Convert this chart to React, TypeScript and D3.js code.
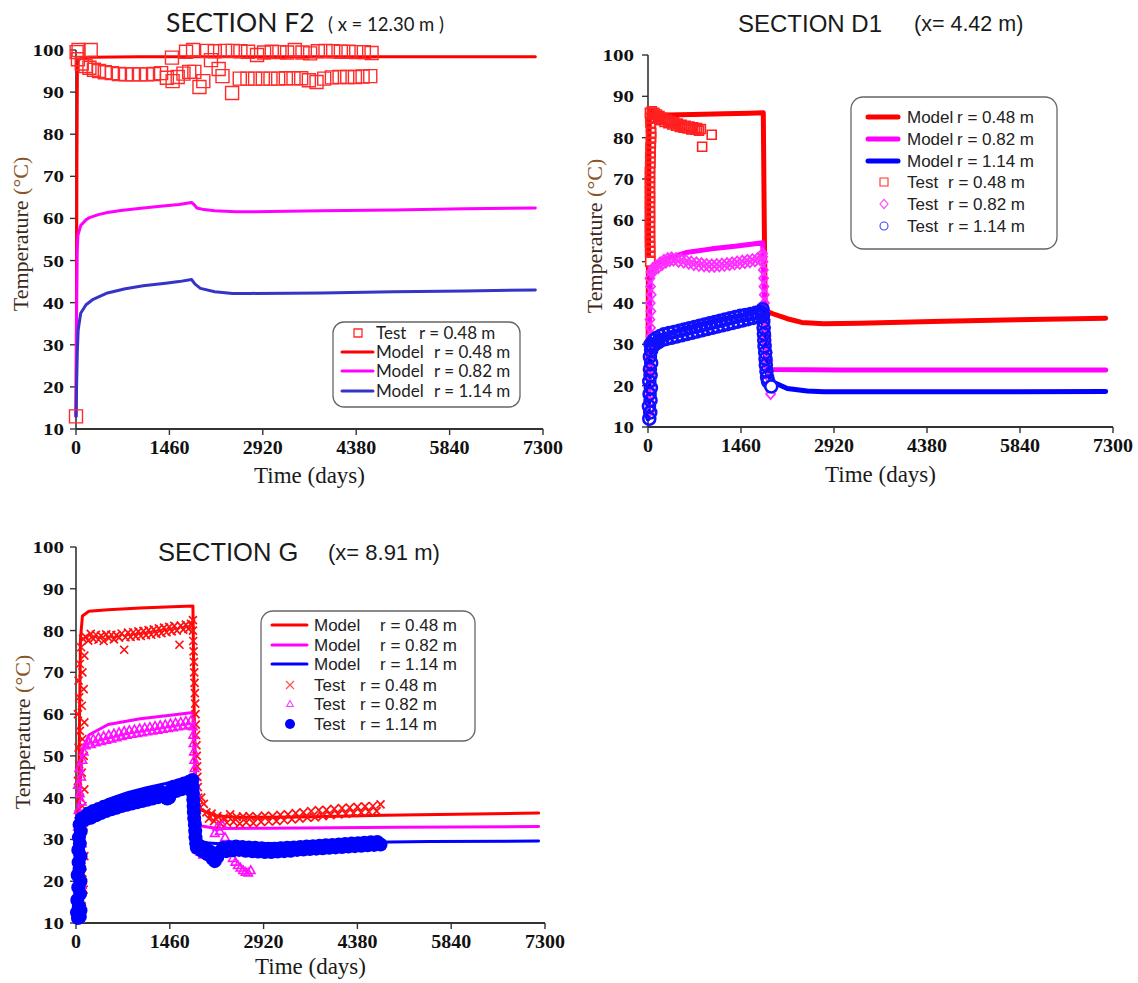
import React from 'react';
import * as d3 from 'd3';

type Pt = [number, number];

const X_TICKS = [0, 1460, 2920, 4380, 5840, 7300];
const Y_TICKS = [10, 20, 30, 40, 50, 60, 70, 80, 90, 100];

// ---------------- SECTION F2 ----------------
const F2_MODEL_048: Pt[] = [[0,13],[8,40],[15,75],[22,96],[35,97.6],[80,98.1],[200,98.3],[1000,98.4],[4000,98.4],[7180,98.4]];
const F2_MODEL_082: Pt[] = [[0,13],[8,35],[18,52],[30,56],[73,58.3],[150,59.6],[212,60.2],[350,60.9],[492,61.4],[700,61.9],[1051,62.5],[1400,63],[1610,63.3],[1806,63.8],[1850,63.2],[1889,62.5],[2000,62.1],[2169,61.8],[2500,61.6],[2728,61.6],[3300,61.7],[3846,61.8],[4964,62],[6082,62.3],[7180,62.5]];
const F2_MODEL_114: Pt[] = [[0,13],[10,21],[20,28],[34,33.5],[73,37.5],[157,39.5],[268,40.8],[492,42.3],[771,43.3],[1051,44],[1400,44.6],[1610,45],[1806,45.5],[1861,44.4],[1945,43.4],[2169,42.6],[2448,42.2],[2728,42.2],[3846,42.3],[4964,42.6],[6082,42.8],[7180,43]];
const F2_TEST_048: Pt[] = [[0,13],[10,99.5],[40,100],[30,97.8],[90,96.8],[150,96.2],[230,100],[210,95.8],[280,95.3],[360,95],[450,94.7],[560,94.5],[670,94.3],[780,94.2],[890,94.2],[1000,94.2],[1110,94.2],[1220,94.3],[1330,94.5],[1420,93.4],[1500,98.2],[1510,92.6],[1590,93.6],[1680,94.4],[1720,99.6],[1770,94.8],[1830,100],[1850,94.8],[1930,91.2],[1990,92.6],[2050,99.8],[2110,97.6],[2170,99.7],[2230,95.5],[2290,93.8],[2330,99.8],[2440,89.8],[2450,99.8],[2560,93.2],[2570,99.7],[2680,93.2],[2690,99.6],[2800,93.2],[2830,98.8],[2920,93.2],[2940,99.4],[3040,93.2],[3060,99.6],[3160,93.2],[3180,99.5],[3280,93.3],[3300,99.4],[3400,93.3],[3420,100],[3520,93.3],[3540,99.4],[3640,92.8],[3660,99.2],[3760,92.4],[3780,99.7],[3880,93.2],[3900,99.8],[4000,93.5],[4020,99.7],[4120,93.6],[4140,99.6],[4240,93.6],[4260,99.6],[4360,93.6],[4380,99.5],[4480,93.7],[4500,99.5],[4600,93.8],[4620,99.3]];

// ---------------- SECTION D1 ----------------
const D1_MODEL_048: Pt[] = [[0,22],[8,55],[15,80],[25,86.3],[60,86.6],[120,85.6],[300,85.5],[700,85.6],[1200,85.8],[1600,85.9],[1810,86],[1825,60],[1840,38.2],[1960,37.4],[2187,36.2],[2414,35.3],[2755,35],[3323,35.1],[4459,35.5],[5595,35.9],[7185,36.3]];
const D1_MODEL_082: Pt[] = [[0,12],[15,30],[35,45],[70,47.8],[150,49.5],[300,50.8],[600,52.2],[1000,53.1],[1400,53.8],[1800,54.6],[1830,40],[1860,24.5],[1950,23.9],[3000,23.8],[7185,23.8]];
const D1_MODEL_114: Pt[] = [[0,12],[20,22],[50,28],[100,30.5],[200,32],[500,33.5],[1000,35.5],[1500,37.2],[1800,38.6],[1830,30],[1870,23],[1960,20.9],[2187,19.3],[2500,18.7],[2755,18.5],[5000,18.5],[7185,18.6]];
const D1_TEST_048: Pt[] = [[60,86.4],[80,85.5],[100,86],[120,85],[140,85.6],[160,84.6],[180,85.2],[200,84.2],[230,84.8],[260,83.8],[290,84.4],[320,83.5],[350,84],[380,83.2],[410,83.7],[440,82.9],[470,83.4],[500,82.6],[530,83.1],[560,82.4],[590,82.9],[620,82.2],[650,82.7],[680,82],[710,82.5],[740,81.9],[770,82.3],[800,81.7],[830,82.1],[850,77.8],[1000,80.7],
  [30,86],[35,84.8],[40,83.6],[45,82.4],[50,81.2],[48,80],[45,78.8],[40,77.6],[42,76.4],[35,75.2],[38,74],[34,72.8],[30,71.6],[33,70.4],[30,69.2],[32,68],[30,66.8],[33,65.6],[30,64.4],[32,63.2],[30,62],[33,60.8],[30,59.6],[32,58.4],[30,57.2],[33,56],[30,54.8],[35,53.6],[33,52.4],[36,51.2],[35,50]];
const D1_TEST_082: Pt[] = [[40,14],[30,16],[45,18],[35,20],[50,22],[40,24],[30,26],[45,28],[35,30],[50,32],[40,34],[30,36],[45,38],[35,40],[50,42],[40,44],[30,46],[45,47.5],
  [60,47.5],[80,48.5],[100,47.8],[130,49],[160,48.5],[190,49.8],[220,49.2],[250,50.4],[280,49.8],[310,50.8],[340,50.2],[370,51],[400,50.3],[440,50.8],[480,50],[520,50.6],[560,49.8],[600,50.3],[640,49.5],[680,50],[720,49.2],[760,49.8],[800,49],[840,49.6],[880,48.9],[920,49.4],[960,48.8],[1000,49.3],[1040,48.8],[1080,49.4],[1120,48.9],[1160,49.5],[1200,49],[1240,49.6],[1280,49.2],[1320,49.8],[1360,49.4],[1400,50],[1440,49.5],[1480,50.2],[1520,49.7],[1560,50.4],[1600,49.9],[1640,50.6],[1680,50.1],[1720,50.8],[1760,50.4],[1800,51.2],
  [1800,52],[1805,50],[1810,48],[1815,46],[1820,44],[1825,42],[1830,40],[1835,38],[1840,36],[1850,34],[1855,32],[1860,30],[1870,28],[1880,26],[1890,24],[1900,22],[1910,20],[1925,18]];
const D1_TEST_114: Pt[] = [[20,12],[35,13.5],[15,15],[40,16.5],[25,18],[45,19.5],[20,21],[40,22.5],[30,24],[50,25.5],[30,27],[50,28.5],[40,30],
  [70,29.5],[90,31],[110,30],[130,31.5],[160,30.5],[190,32],[220,31],[250,32.4],[290,31.3],[330,32.7],[370,31.6],[410,33],[450,31.9],[490,33.3],[530,32.2],[570,33.6],[610,32.5],[650,33.9],[690,32.8],[730,34.2],[770,33.1],[810,34.5],[850,33.4],[890,34.8],[930,33.7],[970,35.1],[1010,34],[1050,35.4],[1090,34.3],[1130,35.7],[1170,34.6],[1210,36],[1250,34.9],[1290,36.3],[1330,35.2],[1370,36.6],[1410,35.5],[1450,36.9],[1490,35.8],[1530,37.1],[1570,36.1],[1610,37.3],[1650,36.4],[1690,37.6],[1730,36.7],[1770,37.9],[1800,37.2],
  [1800,38.5],[1805,37],[1810,35.5],[1815,34],[1820,32.5],[1825,31],[1830,29.5],[1840,28],[1845,26.5],[1850,25],[1860,23.5],[1870,22],[1885,21],[1935,19.8]];

// ---------------- SECTION G ----------------
const G_MODEL_048: Pt[] = [[0,11],[40,40],[70,78],[100,83.5],[200,84.6],[500,85],[1000,85.4],[1500,85.7],[1820,85.9],[1840,60],[1870,40],[1950,37],[2200,35.6],[2500,35.3],[3500,35.4],[4800,35.8],[7200,36.3]];
const G_MODEL_082: Pt[] = [[0,11],[40,30],[70,45],[100,51],[200,55],[500,57.5],[1000,58.9],[1500,59.8],[1820,60.4],[1850,45],[1880,35],[1950,33.2],[2200,32.6],[3000,32.7],[5000,32.9],[7200,33.1]];
const G_MODEL_114: Pt[] = [[0,11],[50,12],[80,22],[110,32],[150,35.5],[250,37.5],[500,39.6],[800,41.2],[1100,42.4],[1400,43.4],[1700,44.6],[1820,45.3],[1850,40],[1880,33],[1920,30],[2000,29.2],[2300,28.9],[3000,29],[4000,29.2],[5500,29.5],[7200,29.6]];
const G_TEST_048: Pt[] = [[30,12],[90,14],[50,16],[120,18],[40,20],[100,22],[60,24],[130,26],[30,28],[90,30],[50,32],[120,34],[40,36],[100,38],[60,40],[130,42],[30,44],[90,46],[50,48],[120,50],[40,52],[100,54],[60,56],[130,58],[30,60],[90,62],[50,64],[120,66],[40,68],[100,70],[60,72],[130,74],[80,76],[110,78],
  [150,78.5],[190,77.6],[230,79.2],[270,78],[310,79],[350,77.8],[390,78.8],[430,77.5],[470,79.1],[510,78.2],[550,79],[590,77.9],[630,78.9],[670,78.3],[710,79.3],[750,75.4],[770,78.4],[810,79.5],[850,78.5],[890,79.6],[930,78.6],[970,79.8],[1010,78.7],[1050,79.9],[1090,78.9],[1130,80.1],[1170,79],[1210,80.3],[1250,79.2],[1290,80.5],[1330,79.4],[1370,80.7],[1410,79.6],[1450,80.9],[1490,79.8],[1530,81.1],[1570,80],[1610,76.6],[1630,81.2],[1670,80.2],[1710,81.4],[1750,80.4],[1790,81.6],[1820,82.5],
  [1820,80],[1825,77.5],[1830,75],[1835,72.5],[1840,70],[1845,67.5],[1850,65],[1855,62.5],[1860,60],[1865,57.5],[1870,55],[1875,52.5],[1880,50],[1885,47.5],[1890,45],[1895,42.5],[1900,40],[1910,38],
  [1950,40],[1990,38.5],[2030,36.5],[2070,35],[2110,36.2],[2150,34.4],[2200,35.6],[2250,33.8],[2300,35.2],[2350,34],[2400,36],[2450,34.2],[2500,35.4],[2550,33.8],[2600,35.5],[2650,34.1],[2700,35.6],[2760,33.9],[2820,35.4],[2880,34.2],[2940,35.7],[3000,34.3],[3060,35.6],[3120,34.4],[3180,35.9],[3240,34.6],[3300,36],[3360,34.8],[3420,36.3],[3480,35],[3540,36.5],[3600,35.2],[3660,36.8],[3720,35.3],[3780,37],[3840,35.6],[3900,37.1],[3960,35.8],[4020,37.3],[4080,36],[4140,37.5],[4200,36.1],[4260,37.6],[4320,36.3],[4380,37.8],[4440,36.4],[4500,37.9],[4560,36.6],[4620,38],[4680,36.8],[4740,38.4]];
const G_TEST_082: Pt[] = [[60,11],[30,13],[80,15],[40,17],[90,19],[50,21],[20,23],[70,25],[40,27],[90,29],[50,31],[30,33],[80,35],[40,37],[90,39],[60,41],[30,43],[80,45],[50,47],[100,49],[120,51],
  [150,52.5],[190,53.6],[230,52.8],[270,54],[310,53.2],[350,54.4],[390,53.5],[430,54.7],[470,53.8],[510,55],[550,54.1],[590,55.3],[630,54.4],[670,55.6],[710,54.7],[750,55.9],[790,55],[830,56.1],[870,55.2],[910,56.3],[950,55.4],[990,56.5],[1030,55.6],[1070,56.7],[1110,55.8],[1150,56.9],[1190,56],[1230,57.1],[1270,56.2],[1310,57.3],[1350,56.4],[1390,57.5],[1430,56.6],[1470,57.7],[1510,56.8],[1550,57.9],[1590,57],[1630,58.1],[1670,57.2],[1710,58.3],[1750,57.4],[1790,58.5],
  [1820,57],[1825,55],[1830,53],[1835,51],[1840,49],[1845,47],[1850,45],[1855,43],[1860,41],[1865,39],[1870,37],[1875,35],[1880,33],[1885,31],[1890,29],[1900,27.5],
  [1940,27],[1980,26.3],[2020,27.2],[2060,26],[2100,27],[2160,31.5],[2200,33],[2240,32],[2280,33.4],[2320,30.5],[2440,25.5],[2480,24.6],[2520,23.8],[2560,23.2],[2600,22.6],[2640,22.2],[2680,22],[2720,22.6]];
const G_TEST_114: Pt[] = [[30,11.2],[60,11.5],[15,12.5],[70,13],[45,14],[20,15.5],[65,17],[35,18.5],[70,20],[25,21.5],[55,23],[40,24.5],[70,26],[35,27.5],[60,29],[45,30.5],[75,32],[55,33.5],[90,35],
  [150,34.8],[190,36.2],[230,35.2],[270,36.8],[310,35.8],[350,37.3],[390,36.3],[430,37.8],[470,36.8],[510,38.2],[550,37.2],[590,38.6],[630,37.6],[670,39],[710,38],[750,39.4],[790,38.3],[830,39.7],[870,38.6],[910,40],[950,38.9],[990,40.3],[1030,39.2],[1070,40.6],[1110,39.5],[1150,40.9],[1190,39.8],[1230,41.2],[1270,40.1],[1310,41.5],[1350,40.4],[1390,40.1],[1420,39.8],[1450,40],[1480,41.8],[1520,42.6],[1560,41.6],[1600,43],[1640,42],[1680,43.4],[1720,42.4],[1760,43.8],[1800,43],
  [1810,44.2],[1815,42.5],[1820,41],[1825,39.5],[1830,38],[1835,36.5],[1840,35],[1850,33.5],[1855,32],[1860,30.5],[1870,29],[1880,28],
  [1920,28.5],[1960,27.2],[2000,28],[2040,26.5],[2080,27.2],[2120,25.5],[2160,24.8],[2200,25.8],[2240,27],[2290,28],[2340,27.2],[2390,28.2],[2440,27.4],[2490,28.3],[2540,27.5],[2590,28.2],[2640,27.3],[2690,28.1],[2740,27.2],[2790,28],[2840,27.1],[2890,27.9],[2940,27],[2990,27.8],[3040,27],[3090,27.8],[3140,27.1],[3190,27.9],[3240,27.2],[3290,28],[3340,27.3],[3390,28.1],[3440,27.5],[3490,28.2],[3540,27.6],[3590,28.3],[3640,27.7],[3690,28.4],[3740,27.8],[3790,28.5],[3840,27.9],[3890,28.6],[3940,28],[3990,28.7],[4040,28.1],[4090,28.8],[4140,28.2],[4190,28.9],[4240,28.3],[4290,29],[4340,28.4],[4390,29.1],[4440,28.5],[4490,29.2],[4540,28.6],[4590,29.3],[4640,28.7],[4690,29.4],[4740,28.8]];

// ---------------- helpers ----------------
type Shape = 'square' | 'diamond' | 'circle' | 'times' | 'triangle' | 'dot';

function markerPath(shape: Shape, s: number): string {
  const h = s / 2;
  switch (shape) {
    case 'square': return `M${-h},${-h}h${s}v${s}h${-s}Z`;
    case 'diamond': return `M0,${-h * 1.15}L${h},0L0,${h * 1.15}L${-h},0Z`;
    case 'times': return `M${-h},${-h}L${h},${h}M${-h},${h}L${h},${-h}`;
    case 'triangle': return `M0,${-h}L${h * 0.95},${h * 0.7}L${-h * 0.95},${h * 0.7}Z`;
    default: return `M${h},0A${h},${h} 0 1,1 ${-h},0A${h},${h} 0 1,1 ${h},0Z`;
  }
}

interface Model { data: Pt[]; color: string; width: number }
interface Test { data: Pt[]; shape: Shape; color: string; size: number; fill: string; sw: number; lastFill?: string }
interface LegendItem { kind: 'line' | 'marker'; color: string; width?: number; shape?: Shape; size?: number; fill?: string; sw?: number; word: string; rtext: string; rx: number }
interface Cfg {
  x0: number; x1: number; yb: number; yt: number; labelGap: number;
  title: string; titleX: number; titleY: number; titleFont: string; titleSize: number;
  sub: string; subX: number; subSize: number;
  ylabX: number; ylabY: number; xlabY: number;
  models: Model[]; tests: Test[];
  legend: { x: number; y: number; w: number; h: number; r: number; lx0: number; lx1: number; mx: number; tx: number; rows: number[]; font: string; size: number; items: LegendItem[] };
}

const SERIF = '"Liberation Serif", "Times New Roman", serif';
const SANS = '"Liberation Sans", Arial, sans-serif';
const CAL = 'Lato, "Open Sans", sans-serif';

function Panel({ c }: { c: Cfg }) {
  const x = d3.scaleLinear().domain([0, 7300]).range([c.x0, c.x1]);
  const y = d3.scaleLinear().domain([10, 100]).range([c.yb, c.yt]);
  const line = d3.line<Pt>().x(d => x(d[0])).y(d => y(d[1]));
  const L = c.legend;
  return (
    <g>
      <line x1={x(0)} x2={x(0)} y1={y(10)} y2={y(100)} stroke="#333" strokeWidth={1.6} />
      <line x1={x(0)} x2={x(7300)} y1={y(10)} y2={y(10)} stroke="#333" strokeWidth={1.8} />
      {Y_TICKS.map(t => (
        <g key={'y' + t}>
          <line x1={x(0) - 6} x2={x(0)} y1={y(t)} y2={y(t)} stroke="#333" strokeWidth={1.4} />
          <text x={x(0) - c.labelGap} y={y(t)} dy="0.35em" textAnchor="end" fontFamily={SERIF} fontWeight="bold" fontSize={17} fill="#111"
            textLength={String(t).length * 10.5} lengthAdjust="spacingAndGlyphs">{t}</text>
        </g>
      ))}
      {X_TICKS.map(t => (
        <g key={'x' + t}>
          <line x1={x(t)} x2={x(t)} y1={y(10)} y2={y(10) + 6} stroke="#333" strokeWidth={1.4} />
          <text x={x(t)} y={y(10) + 25} textAnchor="middle" fontFamily={SERIF} fontWeight="bold" fontSize={18} fill="#111"
            textLength={String(t).length * 10} lengthAdjust="spacingAndGlyphs">{t}</text>
        </g>
      ))}
      {c.models.map((m, i) => (
        <path key={'m' + i} d={line(m.data) || ''} fill="none" stroke={m.color} strokeWidth={m.width} strokeLinejoin="round" strokeLinecap="round" />
      ))}
      {c.tests.map((t, i) => (
        <g key={'t' + i}>
          {t.data.map((p, j) => (
            <path key={j} transform={`translate(${x(p[0])},${y(p[1])})`} d={markerPath(t.shape, t.size)}
              fill={t.lastFill && j === t.data.length - 1 ? t.lastFill : t.fill}
              stroke={t.shape === 'dot' ? 'none' : t.color} strokeWidth={t.sw} />
          ))}
        </g>
      ))}
      <text x={c.titleX} y={c.titleY} fontFamily={c.titleFont} fontSize={c.titleSize} fill="#1a1a1a">{c.title}</text>
      <text x={c.subX} y={c.titleY - 1} fontFamily={c.titleFont} fontSize={c.subSize} fill="#1a1a1a" style={{ whiteSpace: 'pre' }}>{c.sub}</text>
      <text transform={`translate(${c.ylabX},${c.ylabY}) rotate(-90)`} textAnchor="middle" fontFamily={SERIF} fontSize={22} fill="#3a2816">Temperature <tspan fill="#8a5526">(°C)</tspan></text>
      <text x={(c.x0 + c.x1) / 2} y={c.xlabY} textAnchor="middle" fontFamily={SERIF} fontSize={23} fill="#1a1a1a">Time (days)</text>
      <rect x={L.x} y={L.y} width={L.w} height={L.h} rx={L.r} ry={L.r} fill="#fff" stroke="#666" strokeWidth={1.3} />
      {L.items.map((it, i) => {
        const by = L.rows[i];
        const my = by - 6;
        return (
          <g key={'l' + i}>
            {it.kind === 'line'
              ? <line x1={L.lx0} x2={L.lx1} y1={my} y2={my} stroke={it.color} strokeWidth={it.width} strokeLinecap="round" />
              : <path transform={`translate(${L.mx},${my})`} d={markerPath(it.shape as Shape, it.size as number)} fill={it.fill} stroke={it.shape === 'dot' ? 'none' : it.color} strokeWidth={it.sw} />}
            <text x={L.tx} y={by} fontFamily={L.font} fontSize={L.size} fill="#222">{it.word}</text>
            <text x={it.rx} y={by} fontFamily={L.font} fontSize={L.size} fill="#222">{it.rtext}</text>
          </g>
        );
      })}
    </g>
  );
}

const F2: Cfg = {
  x0: 76, x1: 543, yb: 429, yt: 50, labelGap: 12,
  title: 'SECTION F2', titleX: 166, titleY: 32, titleFont: CAL, titleSize: 26.5,
  sub: '( x = 12.30 m )', subX: 328, subSize: 18.5,
  ylabX: 28, ylabY: 234, xlabY: 483,
  models: [
    { data: F2_MODEL_048, color: '#ff0000', width: 3 },
    { data: F2_MODEL_082, color: '#ff00ff', width: 3 },
    { data: F2_MODEL_114, color: '#3434c8', width: 3 },
  ],
  tests: [{ data: F2_TEST_048, shape: 'square', color: '#ff2a2a', size: 13, fill: 'none', sw: 1.4 }],
  legend: {
    x: 333, y: 322, w: 187, h: 85, r: 11, lx0: 342, lx1: 373, mx: 358, tx: 376, rows: [339, 358, 377, 397], font: CAL, size: 17,
    items: [
      { kind: 'marker', color: '#ff2a2a', shape: 'square', size: 8, fill: 'none', sw: 1.3, word: 'Test', rtext: 'r = 0.48 m', rx: 419 },
      { kind: 'line', color: '#ff0000', width: 3, word: 'Model', rtext: 'r = 0.48 m', rx: 434 },
      { kind: 'line', color: '#ff00ff', width: 3, word: 'Model', rtext: 'r = 0.82 m', rx: 434 },
      { kind: 'line', color: '#3434c8', width: 3, word: 'Model', rtext: 'r = 1.14 m', rx: 434 },
    ],
  },
};

const D1: Cfg = {
  x0: 648, x1: 1113, yb: 427, yt: 55, labelGap: 14,
  title: 'SECTION D1', titleX: 738, titleY: 32, titleFont: SANS, titleSize: 24,
  sub: '(x= 4.42 m)', subX: 914, subSize: 21.5,
  ylabX: 602, ylabY: 236, xlabY: 482,
  models: [
    { data: D1_MODEL_048, color: '#ff0000', width: 5 },
    { data: D1_MODEL_082, color: '#ff00ff', width: 5 },
    { data: D1_MODEL_114, color: '#0000ff', width: 5 },
  ],
  tests: [
    { data: D1_TEST_048, shape: 'square', color: '#ff2020', size: 9, fill: 'none', sw: 1.6, lastFill: '#fff' },
    { data: D1_TEST_082, shape: 'diamond', color: '#ff30ff', size: 9, fill: 'none', sw: 1.8 },
    { data: D1_TEST_114, shape: 'circle', color: '#1010ff', size: 12, fill: 'none', sw: 2.6, lastFill: '#fff' },
  ],
  legend: {
    x: 851, y: 97, w: 206, h: 152, r: 12, lx0: 868, lx1: 898, mx: 884, tx: 907, rows: [123, 145, 167, 188, 210, 232], font: SANS, size: 17,
    items: [
      { kind: 'line', color: '#ff0000', width: 5, word: 'Model', rtext: 'r = 0.48 m', rx: 957 },
      { kind: 'line', color: '#ff00ff', width: 5, word: 'Model', rtext: 'r = 0.82 m', rx: 957 },
      { kind: 'line', color: '#0000ff', width: 5, word: 'Model', rtext: 'r = 1.14 m', rx: 957 },
      { kind: 'marker', color: '#ff3030', shape: 'square', size: 8, fill: '#fff', sw: 1.1, word: 'Test', rtext: 'r = 0.48 m', rx: 948 },
      { kind: 'marker', color: '#ff40ff', shape: 'diamond', size: 8, fill: '#fff', sw: 1.1, word: 'Test', rtext: 'r = 0.82 m', rx: 948 },
      { kind: 'marker', color: '#4040ff', shape: 'circle', size: 8, fill: '#fff', sw: 1.1, word: 'Test', rtext: 'r = 1.14 m', rx: 948 },
    ],
  },
};

const G: Cfg = {
  x0: 76, x1: 545, yb: 923, yt: 547, labelGap: 12,
  title: 'SECTION G', titleX: 158, titleY: 561, titleFont: SANS, titleSize: 25.5,
  sub: '(x= 8.91 m)', subX: 328, subSize: 22,
  ylabX: 30, ylabY: 732, xlabY: 974,
  models: [
    { data: G_MODEL_048, color: '#ff0000', width: 3 },
    { data: G_MODEL_082, color: '#ff00ff', width: 3 },
    { data: G_MODEL_114, color: '#0000ff', width: 3 },
  ],
  tests: [
    { data: G_TEST_048, shape: 'times', color: '#ff1010', size: 8, fill: 'none', sw: 1.7 },
    { data: G_TEST_082, shape: 'triangle', color: '#ff10ff', size: 9, fill: 'none', sw: 1.6 },
    { data: G_TEST_114, shape: 'dot', color: '#0000ff', size: 14, fill: '#0000ff', sw: 0 },
  ],
  legend: {
    x: 261, y: 611, w: 214, h: 130, r: 12, lx0: 272, lx1: 307, mx: 290, tx: 314, rows: [631, 651, 670, 691, 710, 730], font: SANS, size: 17,
    items: [
      { kind: 'line', color: '#ff0000', width: 3, word: 'Model', rtext: 'r = 0.48 m', rx: 380 },
      { kind: 'line', color: '#ff00ff', width: 3, word: 'Model', rtext: 'r = 0.82 m', rx: 380 },
      { kind: 'line', color: '#0000ff', width: 3, word: 'Model', rtext: 'r = 1.14 m', rx: 380 },
      { kind: 'marker', color: '#ff5050', shape: 'times', size: 8, fill: 'none', sw: 1.2, word: 'Test', rtext: 'r = 0.48 m', rx: 360 },
      { kind: 'marker', color: '#ff40ff', shape: 'triangle', size: 7, fill: 'none', sw: 1.1, word: 'Test', rtext: 'r = 0.82 m', rx: 360 },
      { kind: 'marker', color: '#0000ff', shape: 'dot', size: 10, fill: '#0000ff', sw: 0, word: 'Test', rtext: 'r = 1.14 m', rx: 360 },
    ],
  },
};

export default function App() {
  return (
    <svg width={1138} height={983} style={{ position: 'absolute', left: 0, top: 0, background: '#fff' }}>
      <rect width={1138} height={983} fill="#fff" />
      <Panel c={F2} />
      <Panel c={D1} />
      <Panel c={G} />
    </svg>
  );
}
